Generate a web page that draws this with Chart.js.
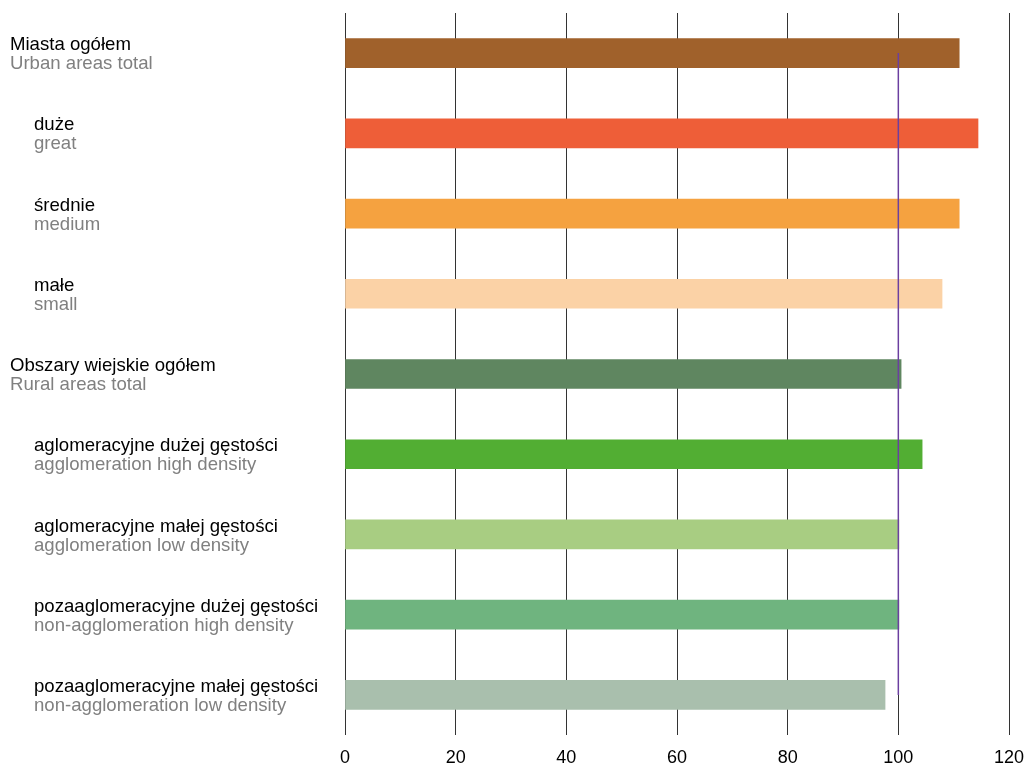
<!DOCTYPE html>
<html>
<head>
<meta charset="utf-8">
<script src="https://cdn.jsdelivr.net/npm/chart.js@4/dist/chart.umd.min.js"></script>
<style>
    html, body { margin: 0; padding: 0; background: #fff; overflow: hidden; }
    #wrap { position: relative; width: 1026px; height: 771px; }
    #chart { display: block; }
</style>
</head>
<body>
<div id="wrap"><canvas id="chart"></canvas></div>
<script>
    var labelsPl = [
        'Miasta ogółem', 'duże', 'średnie', 'małe',
        'Obszary wiejskie ogółem',
        'aglomeracyjne dużej gęstości', 'aglomeracyjne małej gęstości',
        'pozaaglomeracyjne dużej gęstości', 'pozaaglomeracyjne małej gęstości'
    ];
    var labelsEn = [
        'Urban areas total', 'great', 'medium', 'small',
        'Rural areas total',
        'agglomeration high density', 'agglomeration low density',
        'non-agglomeration high density', 'non-agglomeration low density'
    ];
    var indented = [false, true, true, true, false, true, true, true, true];
    var values = [111.0, 114.4, 111.0, 107.9, 100.5, 104.3, 100.1, 100.1, 97.6];
    var barColors = ['#a0612b', '#ee5e38', '#f5a240', '#fbd2a6', '#5f8660',
        '#52ae33', '#a8cd82', '#6fb47f', '#a9bfad'];
    var referenceLevel = 100;
    var xTicks = [0, 20, 40, 60, 80, 100, 120];

    var fontFamily = '"Liberation Sans", Arial, sans-serif';

    // two-line category labels (Polish black, English grey)
    var labelPlugin = {
        id: 'twoLineLabels',
        afterDraw: function(chart) {
            var ctx = chart.ctx;
            var y = chart.scales.y;
            ctx.save();
            ctx.font = '18.6px ' + fontFamily;
            ctx.textAlign = 'left';
            ctx.textBaseline = 'middle';
            labelsPl.forEach(function(txt, i) {
                var cy = y.getPixelForValue(i);
                var x = indented[i] ? 34 : 10;
                ctx.fillStyle = '#000';
                ctx.fillText(txt, x, cy - 8);
                ctx.fillStyle = '#808080';
                ctx.fillText(labelsEn[i], x, cy + 11);
            });
            ctx.restore();
        }
    };

    new Chart(document.getElementById('chart'), {
        type: 'bar',
        data: {
            labels: labelsPl,
            datasets: [{
                type: 'line',
                data: labelsPl.map(function() { return referenceLevel; }),
                borderColor: '#6b3fa0',
                borderWidth: 1.5,
                pointRadius: 0,
                fill: false,
                order: 0
            }, {
                data: values,
                backgroundColor: barColors,
                barThickness: 29,
                order: 1
            }]
        },
        options: {
            indexAxis: 'y',
            responsive: true,
            maintainAspectRatio: false,
            animation: false,
            layout: { padding: { top: 13, left: 345, right: 0, bottom: 2 } },
            plugins: {
                legend: { display: false },
                tooltip: { enabled: false }
            },
            scales: {
                x: {
                    min: 0,
                    max: 120,
                    afterBuildTicks: function(axis) {
                        axis.ticks = xTicks.map(function(v) { return { value: v }; });
                    },
                    afterFit: function(axis) {
                        axis.height = 34;
                        axis.paddingLeft = 0;
                        axis.paddingRight = 17;
                    },
                    border: { display: false },
                    grid: { color: '#333', lineWidth: 1, drawTicks: false },
                    ticks: {
                        padding: 12,
                        color: '#000',
                        font: { size: 18, family: fontFamily }
                    }
                },
                y: {
                    display: false,
                    offset: true
                }
            }
        },
        plugins: [labelPlugin]
    });
</script>
</body>
</html>
